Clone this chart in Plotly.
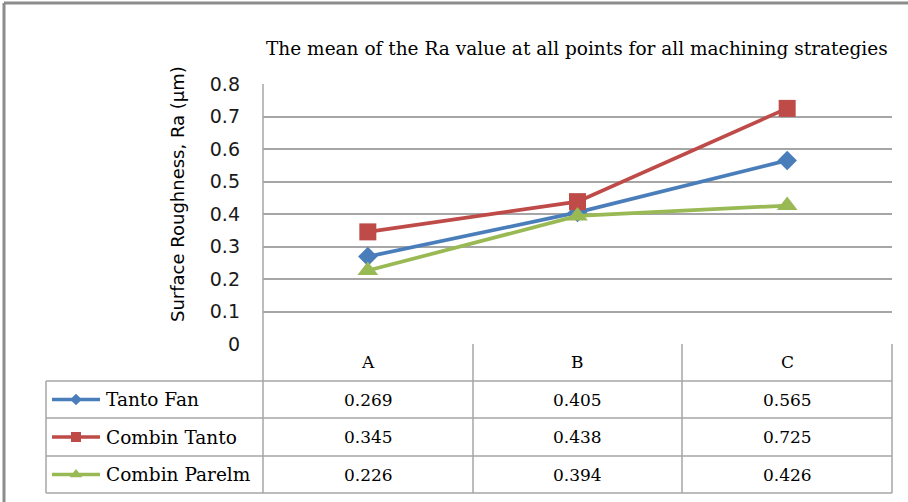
import plotly.graph_objects as go

categories = ["A", "B", "C"]
series_names = ["Tanto Fan", "Combin Tanto", "Combin Parelm"]
tanto_fan = [0.269, 0.405, 0.565]
combin_tanto = [0.345, 0.438, 0.725]
combin_parelm = [0.226, 0.394, 0.426]
y_ticks = [0, 0.1, 0.2, 0.3, 0.4, 0.5, 0.6, 0.7, 0.8]

colors = ["#4a7ebb", "#be4b48", "#98b954"]
symbols = ["diamond", "square", "triangle-up"]
msizes = [15, 17, 18]
key_sizes = [9, 10, 11]
values = [tanto_fan, combin_tanto, combin_parelm]

W, H = 908, 502
PL, PR, PT, PB = 263, 892, 84, 344
GRID = "#a6a6a6"
SERIF = "DejaVu Serif"
SANS = "DejaVu Sans"

fig = go.Figure()
for name, vals, c, s, ms in zip(series_names, values, colors, symbols, msizes):
    fig.add_trace(go.Scatter(x=categories, y=vals, mode="lines+markers", name=name,
                             line=dict(color=c, width=3.7),
                             marker=dict(symbol=s, size=ms, color=c),
                             showlegend=False, xaxis="x", yaxis="y"))

# overlay pixel axis for table and legend keys
row_y = [381, 418, 456, 493]
col_x = [46, 263, 473, 682, 892]
for i, (c, s, ks) in enumerate(zip(colors, symbols, key_sizes)):
    yc = (row_y[i] + row_y[i + 1]) / 2
    fig.add_trace(go.Scatter(x=[52, 76, 100], y=[yc, yc, yc], mode="lines",
                             line=dict(color=c, width=3.5), showlegend=False,
                             hoverinfo="skip", xaxis="x2", yaxis="y2"))
    fig.add_trace(go.Scatter(x=[76], y=[yc], mode="markers",
                             marker=dict(symbol=s, size=ks, color=c), showlegend=False,
                             hoverinfo="skip", xaxis="x2", yaxis="y2"))

shapes = []
def ln(x0, y0, x1, y1, color=GRID, w=1.5):
    shapes.append(dict(type="line", xref="x2", yref="y2", x0=x0, y0=y0, x1=x1, y1=y1,
                       line=dict(color=color, width=w), layer="above"))

for yy in row_y:
    ln(col_x[0], yy, col_x[-1], yy)
ln(col_x[0], row_y[0], col_x[0], row_y[-1])
ln(col_x[1], PT, col_x[1], row_y[-1])
for xx in col_x[2:]:
    ln(xx, PB, xx, row_y[-1])
# outer frame
ln(4, 3, W, 3, color="#8c8c8c", w=3)
ln(4, 3, 4, H, color="#8c8c8c", w=3)

annotations = []
def txt(x, y, t, size=17, family=SERIF, xanchor="center", angle=0):
    annotations.append(dict(x=x, y=y, xref="x2", yref="y2", text=t, showarrow=False,
                            xanchor=xanchor, yanchor="middle", textangle=angle,
                            font=dict(family=family, size=size, color="#000000")))

col_centers = [(col_x[i] + col_x[i + 1]) / 2 for i in range(1, 4)]
for cx, cat in zip(col_centers, categories):
    txt(cx, 362, cat)
for i, (name, vals) in enumerate(zip(series_names, values)):
    yc = (row_y[i] + row_y[i + 1]) / 2
    txt(104, yc, name, size=18.5, xanchor="left")
    for cx, v in zip(col_centers, vals):
        txt(cx, yc, f"{v:.3f}")
txt(577, 48, "The mean of the Ra value at all points for all machining strategies", size=18.5)
txt(177, 194, "Surface Roughness, Ra (µm)", size=18, family=SANS, angle=-90)

fig.update_layout(
    template="none",
    width=W, height=H, margin=dict(l=0, r=0, t=0, b=0, pad=0, autoexpand=False),
    paper_bgcolor="white", plot_bgcolor="rgba(0,0,0,0)",
    xaxis=dict(domain=[PL / W, PR / W], range=[-0.5, 2.5], type="category", anchor="y",
               automargin=False,
               showticklabels=False, showgrid=False, zeroline=False, showline=False, ticks=""),
    yaxis=dict(domain=[(H - PB) / H, (H - PT) / H], range=[0, 0.8], tickvals=y_ticks, anchor="x",
               automargin=False,
               ticktext=[("0" if v == 0 else f"{v:.1f}") for v in y_ticks],
               showgrid=True, gridcolor=GRID, gridwidth=1.5, zeroline=False, showline=False,
               ticks="", ticklabelstandoff=22,
               tickfont=dict(family=SANS, size=19, color="#1a1a1a")),
    xaxis2=dict(domain=[0, 1], range=[0, W], visible=False, fixedrange=True, anchor="y2",
                automargin=False),
    yaxis2=dict(domain=[0, 1], range=[H, 0], visible=False, fixedrange=True, anchor="x2",
                automargin=False),
    shapes=shapes, annotations=annotations,
)
fig.write_html("out.html", config={"displayModeBar": False},
               post_script="document.body.style.margin='0';document.body.style.overflow='hidden';")
